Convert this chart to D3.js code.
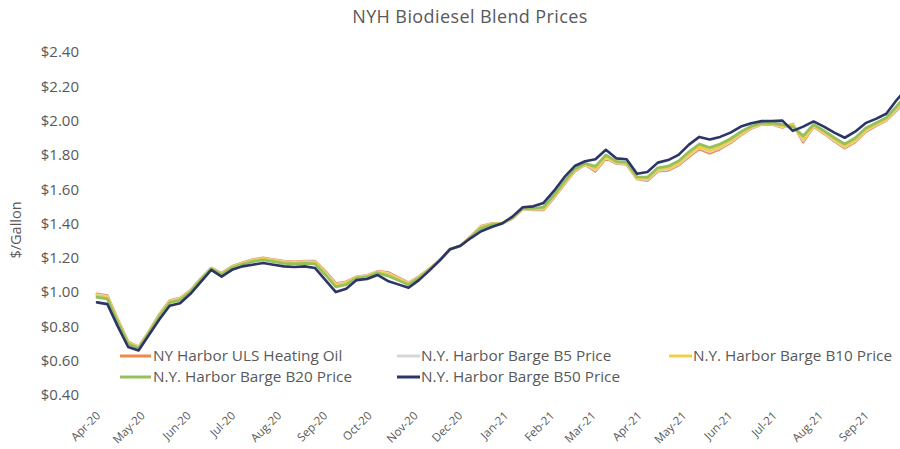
<!DOCTYPE html>
<html lang="en">
	<head>
		<meta charset="utf-8">
		<title>NYH Biodiesel Blend Prices</title>
		<script src="https://d3js.org/d3.v7.min.js"></script>
		<style>
			body {
				margin: 0;
				background: #ffffff;
			}
			text {
				font-family: "Open Sans", sans-serif;
				fill: #595959;
			}
			.line {
				fill: none;
				stroke-linejoin: round;
				stroke-linecap: round;
			}
		</style>
	</head>
	<body>
		<div id="chart"></div>
		<script type="text/javascript">
			// weekly prices, first week = Apr 1 2020
			var firstWeek = "2020-04-01";
			var uls = [0.99,0.98,0.84,0.71,0.68,0.77,0.87,0.95,0.965,1.01,1.08,1.14,1.11,1.15,1.17,1.19,1.20,1.19,1.18,1.176,1.18,1.18,1.12,1.05,1.06,1.09,1.096,1.12,1.115,1.085,1.055,1.09,1.135,1.185,1.25,1.27,1.325,1.385,1.40,1.40,1.43,1.485,1.48,1.48,1.55,1.63,1.705,1.743,1.705,1.78,1.75,1.745,1.66,1.65,1.705,1.71,1.74,1.79,1.835,1.81,1.835,1.87,1.915,1.955,1.977,1.978,1.96,1.98,1.875,1.965,1.925,1.88,1.84,1.875,1.935,1.97,2.00,2.06,2.13];
			var b5 = [0.985,0.975,0.836,0.707,0.678,0.768,0.867,0.947,0.962,1.008,1.078,1.139,1.108,1.148,1.168,1.187,1.197,1.187,1.177,1.173,1.177,1.176,1.115,1.045,1.056,1.088,1.094,1.118,1.11,1.081,1.052,1.088,1.134,1.185,1.25,1.27,1.324,1.382,1.398,1.40,1.431,1.486,1.482,1.484,1.554,1.634,1.708,1.745,1.712,1.785,1.753,1.748,1.663,1.655,1.71,1.716,1.746,1.797,1.842,1.818,1.842,1.876,1.92,1.958,1.979,1.98,1.964,1.976,1.884,1.968,1.929,1.885,1.846,1.881,1.94,1.974,2.004,2.066,2.136];
			var b10 = [0.98,0.97,0.832,0.704,0.676,0.766,0.864,0.944,0.959,1.006,1.076,1.138,1.106,1.146,1.166,1.184,1.194,1.184,1.174,1.17,1.174,1.172,1.11,1.04,1.052,1.086,1.092,1.116,1.105,1.077,1.049,1.086,1.133,1.185,1.25,1.27,1.323,1.379,1.396,1.40,1.432,1.487,1.484,1.488,1.558,1.638,1.711,1.747,1.719,1.79,1.756,1.751,1.666,1.66,1.715,1.722,1.752,1.804,1.849,1.826,1.849,1.882,1.925,1.961,1.981,1.982,1.968,1.972,1.893,1.971,1.933,1.89,1.852,1.887,1.945,1.978,2.008,2.072,2.142];
			var b20 = [0.97,0.96,0.824,0.698,0.672,0.762,0.858,0.938,0.953,1.002,1.072,1.136,1.102,1.142,1.162,1.178,1.188,1.178,1.168,1.164,1.168,1.164,1.10,1.03,1.044,1.082,1.088,1.112,1.095,1.069,1.043,1.082,1.131,1.185,1.25,1.27,1.321,1.373,1.392,1.40,1.434,1.489,1.488,1.496,1.566,1.646,1.717,1.751,1.733,1.80,1.762,1.757,1.672,1.67,1.725,1.734,1.764,1.818,1.863,1.842,1.863,1.894,1.935,1.967,1.985,1.986,1.976,1.964,1.911,1.977,1.941,1.90,1.864,1.899,1.955,1.986,2.016,2.084,2.154];
			var b50 = [0.94,0.93,0.80,0.68,0.66,0.75,0.84,0.92,0.935,0.99,1.06,1.13,1.09,1.13,1.15,1.16,1.17,1.16,1.15,1.146,1.15,1.14,1.07,1.00,1.02,1.07,1.076,1.10,1.065,1.045,1.025,1.07,1.125,1.185,1.25,1.27,1.315,1.355,1.38,1.40,1.44,1.495,1.50,1.52,1.59,1.67,1.735,1.763,1.775,1.83,1.78,1.775,1.69,1.70,1.755,1.77,1.80,1.86,1.905,1.89,1.905,1.93,1.965,1.985,1.997,1.998,2.00,1.94,1.965,1.995,1.965,1.93,1.90,1.935,1.985,2.01,2.04,2.12,2.19];

			var seriesNames = ["NY Harbor ULS Heating Oil","N.Y. Harbor Barge B5 Price","N.Y. Harbor Barge B10 Price","N.Y. Harbor Barge B20 Price","N.Y. Harbor Barge B50 Price"];
			var seriesColors = ["#ef8a4c","#d6d6d6","#f3cf45","#94c05e","#2c3566"];
			var yTicks = [0.4,0.6,0.8,1.0,1.2,1.4,1.6,1.8,2.0,2.2,2.4];
			var monthTicks = ["2020-04-01","2020-05-01","2020-06-01","2020-07-01","2020-08-01","2020-09-01","2020-10-01","2020-11-01","2020-12-01","2021-01-01","2021-02-01","2021-03-01","2021-04-01","2021-05-01","2021-06-01","2021-07-01","2021-08-01","2021-09-01"];

			// settings for window
			var w = 900;
			var h = 449;
			var parse = d3.timeParse("%Y-%m-%d");
			var start = parse(firstWeek);
			var dates = b50.map(function(d,i) { return d3.timeDay.offset(start, i*7); });
			var table = [uls,b5,b10,b20,b50].map(function(vals) {
				return vals.map(function(v,i) { return {date: dates[i], value: v}; });
			});

			var svg = d3.select("#chart").append("svg").attr("width",w).attr("height",h);
			var xScale = d3.scaleTime().domain([parse("2020-04-01"),parse("2021-10-01")]).range([97,910]);
			var yScale = d3.scaleLinear().domain([0.4,2.4]).range([395,52]);

			// title
			svg.append("text").attr("x",470).attr("y",23).style("text-anchor","middle").style("font-size","18px").style("letter-spacing","0.4px").text("NYH Biodiesel Blend Prices");

			// y axis, no line and no ticks
			var yAxis = d3.axisLeft(yScale).tickValues(yTicks).tickSize(0).tickPadding(0).tickFormat(d3.format("$.2f"));
			var yg = svg.append("g").attr("transform","translate(79,0)").call(yAxis);
			yg.select(".domain").remove();
			yg.selectAll("text").style("font-size","15px").style("font-family","'Open Sans', sans-serif").attr("fill","#595959");

			svg.append("text").attr("transform","translate(21,230) rotate(-90)").style("text-anchor","middle").style("font-size","14.5px").text("$/Gallon");

			// x axis with rotated month labels
			var xAxis = d3.axisBottom(xScale).tickValues(monthTicks.map(parse)).tickSize(0).tickPadding(0).tickFormat(d3.timeFormat("%b-%y"));
			var xg = svg.append("g").attr("transform","translate(0,410)").call(xAxis);
			xg.select(".domain").remove();
			xg.selectAll("text").attr("y",0).attr("dy","0.35em").attr("transform","rotate(-45) translate(-2,3)").style("text-anchor","end").style("font-size","11.5px").style("font-family","'Open Sans', sans-serif").attr("fill","#595959");

			// lines
			var line = d3.line().x(function(d) { return xScale(d.date); }).y(function(d) { return yScale(d.value); });
			svg.append("g").selectAll("path").data(table).enter().append("path").attr("class","line").attr("d",line).attr("stroke",function(d,i) { return seriesColors[i]; }).attr("stroke-width",function(d,i) { return i == 4 ? 2.6 : 2.8; });

			// legend
			var legendPos = [[120,356],[397,356],[669,356],[120,377],[397,377]];
			var legend = svg.append("g").selectAll("g").data(seriesNames).enter().append("g").attr("transform",function(d,i) { return "translate("+legendPos[i][0]+","+legendPos[i][1]+")"; });
			legend.append("line").attr("x1",0).attr("x2",function(d,i) { return i == 1 || i == 4 || i == 2 ? 23 : 31; }).attr("y1",0).attr("y2",0).attr("stroke",function(d,i) { return seriesColors[i]; }).attr("stroke-width",3);
			legend.append("text").attr("x",function(d,i) { return i == 1 || i == 4 || i == 2 ? 24 : 33; }).attr("dy","0.35em").style("font-size","15.3px").text(function(d) { return d; });
		</script>
	</body>
</html>
